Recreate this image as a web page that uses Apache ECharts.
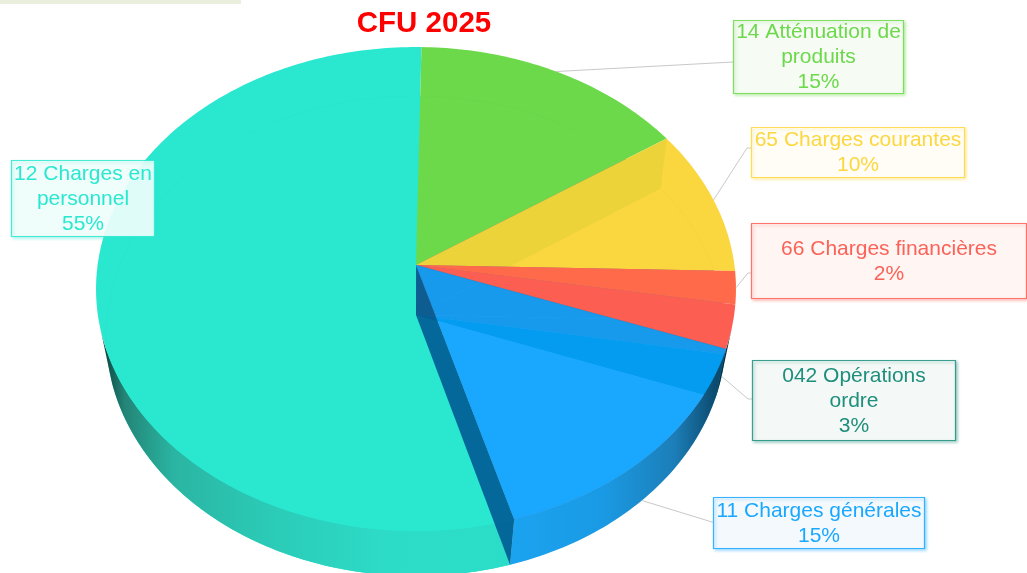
<!DOCTYPE html>
<html>
<head>
<meta charset="utf-8">
<title>CFU 2025</title>
<style>
  html, body { margin: 0; padding: 0; background: #fff; }
  #main { width: 1027px; height: 573px; }
</style>
<script src="https://cdn.jsdelivr.net/npm/echarts@6/dist/echarts.min.js"></script>
</head>
<body>
<div id="main"></div>
<script>
// draw order is back to front: 12 first, 11 last
var categories = ['12 Charges en\npersonnel', '14 Atténuation de\nproduits', '65 Charges courantes', '66 Charges financières', '042 Opérations\nordre', '11 Charges générales']
var shares = [54.8, 15.3, 9.8, 2.2, 2.9, 15.0]

var topColors = ['#2ae8d0', '#6cd94b', '#fad63f', '#ff6b4a', '#fc5e52', 'rgba(0,160,255,0.85)']
var floorColors = ['#2ae8d0', '#99717f', '#99717f', '#99717f', '#14859b', '#add5ff']
var labelColors = ['#2ae8d0', '#6cd94b', '#fcd73f', '#fb6258', '#1f8f7c', '#1aa8ff']
var boxFills = ['rgba(248,254,253,0.88)', '#f6fbf4', '#fffdf6', '#fff5f3', '#f4f8f7', '#f4f9fd']

// box = left, top, right, bottom. elbow = where the leader bends
var labelBoxes = [[11, 160, 155, 237], [733, 20, 904, 94], [751, 127, 965, 178], [751, 223, 1027, 299], [752, 360, 956, 441], [713, 497, 925, 549]]
var labelElbows = [null, [733, 62], [747, 148], [748, 273], [748, 399], [712, 522]]
var leaderOnFloor = [false, false, false, false, true, true]

// perspective planes of the disc: apex = centre of the circle on screen
var lid = { x: 416, y: 265, sx: 318.4, h: 239.6, k: 0.0992 }
var floor = { x: 416, y: 315, sx: 308.8, h: 238.2, k: 0.0875 }
var startAngle = 163.8
var frontFrom = 104, frontTo = 254   // part of the rim that shows

var total = shares.reduce(function (a, b) { return a + b }, 0)
var angles = []
shares.reduce(function (acc, v, i) {
    var end = acc + v / total * 360
    // keep 12 as is (it crosses north), wrap the others back under 360
    angles[i] = i === 0 ? [acc, end] : [acc - 360, end - 360]
    return end
}, startAngle)

function project (plane, deg) {
    var r = deg * Math.PI / 180
    var u = Math.sin(r), v = Math.cos(r), w = 1 + plane.k * v
    return [plane.x + plane.sx * u / w, plane.y - plane.h * v / w]
}

function arc (plane, from, to) {
    var pts = [], n = Math.max(2, Math.ceil(Math.abs(to - from)))
    for (var i = 0; i <= n; i++) pts.push(project(plane, from + (to - from) * i / n))
    return pts
}

function sector (plane, from, to) {
    return [[plane.x, plane.y]].concat(arc(plane, from, to))
}

function cross (a, b, c, d) {  // line a-b with line c-d
    var t = ((c[0] - a[0]) * (d[1] - c[1]) - (c[1] - a[1]) * (d[0] - c[0])) /
        ((b[0] - a[0]) * (d[1] - c[1]) - (b[1] - a[1]) * (d[0] - c[0]))
    return [a[0] + (b[0] - a[0]) * t, a[1] + (b[1] - a[1]) * t]
}

function hGradient (x0, x1, stops) {
    return new echarts.graphic.LinearGradient(x0, 0, x1, 0, stops, true)
}

var rimFills = [
    hGradient(100, 510, [
        { offset: 0, color: '#0b3a35' }, { offset: 0.06, color: '#238577' }, { offset: 0.18, color: '#2ab5a2' },
        { offset: 0.4, color: '#2bcab6' }, { offset: 0.7, color: '#2ddcc7' }, { offset: 1, color: '#2bddc8' }]),
    null, null, null,
    hGradient(705, 730, [{ offset: 0, color: '#073e59' }, { offset: 1, color: '#052d40' }]),
    hGradient(510, 716, [
        { offset: 0, color: '#1ba3f0' }, { offset: 0.45, color: '#1a9ae4' }, { offset: 0.8, color: '#1c7eb8' }, { offset: 1, color: '#0c4a6e' }])
]

function poly (points, fill, stroke) {
    return { type: 'polygon', shape: { points: points }, silent: true, style: { fill: fill, stroke: stroke || null, lineWidth: stroke ? 0.6 : 0 } }
}

function renderSlice (params) {
    var i = params.dataIndex, a0 = angles[i][0], a1 = angles[i][1]
    var lidApex = [lid.x, lid.y], floorApex = [floor.x, floor.y]
    var kids = []

    if (i === 5) {
        // cut the floor back to the lid's edge so it stays out from under the wall
        var cut = cross(lidApex, project(lid, a1), floorApex, project(floor, a0))
        kids.push(poly([cut].concat(arc(floor, a0, a1)).concat([project(lid, a1)]), floorColors[i]))
    } else {
        kids.push(poly(sector(floor, a0, a1), floorColors[i]))
    }

    // rim
    var lo = Math.max(a0, frontFrom), hi = Math.min(a1, frontTo)
    if (rimFills[i] && hi > lo) {
        kids.push(poly(arc(lid, lo, hi).concat(arc(floor, hi, lo)), rimFills[i]))
    }

    // the radial wall of the last slice lies over slice 12
    if (i === 5) {
        kids.push(poly([lidApex, project(lid, a1), project(floor, a1), floorApex], 'rgba(0,90,148,0.9)'))
    }

    kids.push(poly(sector(lid, a0, a1), topColors[i], i === 5 ? 'rgba(0,120,200,0.35)' : null))

    // 14's end wall shows through the yellow top
    if (i === 2) {
        var x = cross(floorApex, project(floor, a0), lidApex, project(lid, a1))
        kids.push(poly([lidApex, project(lid, a0), project(floor, a0), x], 'rgba(90,190,0,0.09)'))
    }

    // faint back edge of the floor seen through the top
    if (i < 3) {
        var from = i === 0 ? frontTo + 4 : a0
        kids.push({ type: 'polyline', silent: true, shape: { points: arc(floor, from, a1) }, style: { fill: null, stroke: 'rgba(0,60,40,0.02)', lineWidth: 1 } })
    }
    return { type: 'group', children: kids }
}

function renderLabel (params, api) {
    var i = params.dataIndex, box = labelBoxes[i], kids = []
    var c = labelColors[i]
    if (labelElbows[i]) {
        var mid = (angles[i][0] + angles[i][1]) / 2
        var from = project(leaderOnFloor[i] ? floor : lid, mid)
        kids.push({ type: 'polyline', silent: true, shape: { points: [from, labelElbows[i], [box[0], labelElbows[i][1]]] },
            style: { fill: null, stroke: '#c9c9c9', lineWidth: 1 } })
    }
    kids.push({ type: 'rect', silent: true, shape: { x: box[0] + 0.5, y: box[1] + 0.5, width: box[2] - box[0] - 1, height: box[3] - box[1] - 1 },
        style: { fill: boxFills[i], stroke: echarts.color.modifyAlpha(c, 0.85), lineWidth: 1.2, shadowBlur: 3, shadowOffsetX: 1.5, shadowOffsetY: 1.5, shadowColor: echarts.color.modifyAlpha(c, 0.45) } })
    kids.push({ type: 'text', silent: true, x: (box[0] + box[2]) / 2, y: (box[1] + box[3]) / 2 + 0.5,
        style: { text: categories[i] + '\n' + Math.round(api.value(0)) + '%', align: 'center', verticalAlign: 'middle',
            fill: c, font: '21px "Liberation Sans", Arial, sans-serif', lineHeight: 25 } })
    return { type: 'group', children: kids }
}

var myChart = echarts.init(document.getElementById('main'), null, { renderer: 'canvas' })
var option = {
    backgroundColor: '#fff',
    animation: false,
    title: {
        text: 'CFU 2025',
        left: 419,
        top: 4,
        textAlign: 'center',
        textStyle: { color: '#ff0000', fontSize: 29.5, fontWeight: 'bold', fontFamily: '"Liberation Sans", Arial, sans-serif' }
    },
    graphic: [{ type: 'rect', left: 0, top: 0, silent: true, shape: { width: 241, height: 4 }, style: { fill: '#e9efdc' } }],
    series: [
        { type: 'custom', coordinateSystem: 'none', silent: true, data: shares, renderItem: renderSlice, z: 2 },
        { type: 'custom', coordinateSystem: 'none', silent: true, data: shares, renderItem: renderLabel, z: 3 }
    ]
}
myChart.setOption(option)
</script>
</body>
</html>
